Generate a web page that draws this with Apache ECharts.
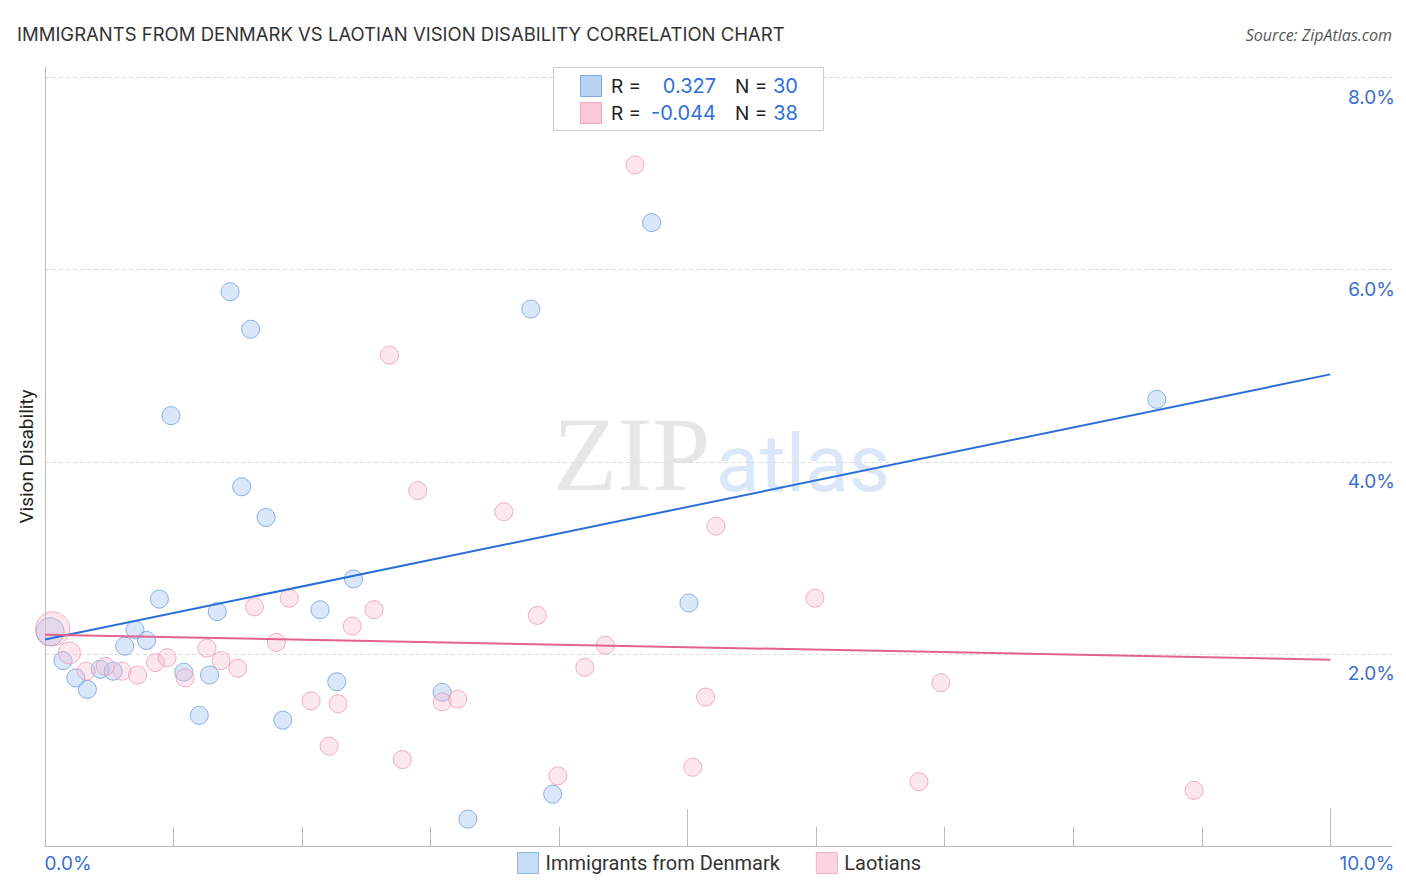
<!DOCTYPE html>
<html>
<head>
<meta charset="utf-8">
<script src="https://cdn.jsdelivr.net/npm/echarts@6/dist/echarts.min.js"></script>
<style>html,body{margin:0;padding:0;background:#fff}#chart{width:1406px;height:892px}</style>
</head>
<body>
<div id="chart"></div>
<script>
// ---- data ----
const seriesNames = ['Immigrants from Denmark', 'Laotians'];
const rValues = ['0.327', '-0.044'];
const nValues = ['30', '38'];

const denmark = [
  [0.04, 2.23], [0.14, 1.93], [0.24, 1.75], [0.33, 1.63], [0.43, 1.84], [0.53, 1.82],
  [0.62, 2.08], [0.70, 2.25], [0.79, 2.14], [0.89, 2.57], [1.08, 1.81], [1.20, 1.36],
  [1.28, 1.78], [1.34, 2.44], [1.85, 1.31], [2.14, 2.46], [2.27, 1.71], [2.40, 2.78],
  [3.09, 1.60], [3.29, 0.28], [3.95, 0.54], [5.01, 2.53], [0.98, 4.48], [1.44, 5.77],
  [1.60, 5.38], [1.53, 3.74], [1.72, 3.42], [3.78, 5.59], [4.72, 6.49], [8.65, 4.65]
];
const laotians = [
  [0.06, 2.26], [0.19, 2.01], [0.32, 1.82], [0.47, 1.87], [0.60, 1.82], [0.72, 1.78],
  [0.86, 1.91], [0.95, 1.96], [1.09, 1.75], [1.26, 2.06], [1.37, 1.93], [1.50, 1.85],
  [1.63, 2.49], [1.80, 2.12], [1.90, 2.58], [2.07, 1.51], [2.21, 1.04], [2.28, 1.48],
  [2.39, 2.29], [2.56, 2.46], [2.78, 0.90], [3.09, 1.50], [3.21, 1.53], [3.83, 2.40],
  [3.99, 0.73], [4.20, 1.86], [4.36, 2.09], [5.04, 0.82], [5.14, 1.55], [5.99, 2.58],
  [2.68, 5.11], [2.90, 3.70], [3.57, 3.48], [5.22, 3.33], [4.59, 7.09], [6.97, 1.70],
  [6.80, 0.67], [8.94, 0.58]
];
const trendDenmark = [[0, 2.15], [10, 4.91]];
const trendLaotians = [[0, 2.20], [10, 1.94]];

const xMinorTicks = [1, 2, 3, 4, 6, 7, 8, 9];
const xMajorTicks = [5, 10];
const yTicks = [2, 4, 6, 8];
const X_MAX = 10.48, Y_MAX = 8.11;

// ---- styles ----
const BLUE_FILL = 'rgba(168,200,242,0.55)', BLUE_EDGE = '#6e9de0', BLUE_LINE = '#2a6fd6';
const PINK_FILL = 'rgba(248,188,208,0.45)', PINK_EDGE = '#ec9bb6', PINK_LINE = '#e2628e';
const FONT = 'Roboto, "Noto Sans", sans-serif';
const GEO = 'Inter, Roboto, sans-serif';

const chart = echarts.init(document.getElementById('chart'), null, {renderer: 'svg'});

function statsRow(i, y, fill, edge) {
  return [
    {type: 'rect', z: 101, shape: {x: 580.5, y: y - 10.5, width: 21, height: 21}, style: {fill: fill, stroke: edge, lineWidth: 1}},
    {type: 'text', z: 101, style: {x: 611, y: y, text: 'R =', font: '19px ' + GEO, fill: '#222', verticalAlign: 'middle'}},
    {type: 'text', z: 101, style: {x: 716, y: y, text: rValues[i], font: '20px ' + GEO, fill: '#2f6fd6', align: 'right', verticalAlign: 'middle'}},
    {type: 'text', z: 101, style: {x: 735, y: y, text: 'N =', font: '19px ' + GEO, fill: '#222', verticalAlign: 'middle'}},
    {type: 'text', z: 101, style: {x: 798, y: y, text: nValues[i], font: '20px ' + GEO, fill: '#2f6fd6', align: 'right', verticalAlign: 'middle'}}
  ];
}

const option = {
  backgroundColor: '#fff',
  animation: false,
  textStyle: {fontFamily: FONT},
  title: [
    {text: 'IMMIGRANTS FROM DENMARK VS LAOTIAN VISION DISABILITY CORRELATION CHART', left: 12, top: 19,
     textStyle: {fontSize: 18.5, fontWeight: 'normal', color: '#333', fontFamily: GEO}},
    {text: 'Source: ZipAtlas.com', right: 9, top: 22,
     textStyle: {fontSize: 16, fontWeight: 'normal', fontStyle: 'italic', color: '#555', fontFamily: '"Open Sans", sans-serif'}}
  ],
  legend: {
    bottom: 13, left: 512, itemWidth: 21, itemHeight: 21, itemGap: 36,
    icon: 'rect',
    textStyle: {fontSize: 20, color: '#333', fontFamily: FONT, padding: [0, 0, 0, 2]},
    data: [
      {name: seriesNames[0], itemStyle: {color: '#b9d3f5', borderColor: '#7aaae6', borderWidth: 1}},
      {name: seriesNames[1], itemStyle: {color: '#fbc9d9', borderColor: '#f0a5bd', borderWidth: 1}}
    ]
  },
  grid: {left: 45, right: 14, top: 67, bottom: 46, containLabel: false},
  xAxis: [
    {type: 'value', min: 0, max: X_MAX,
     axisLine: {show: true, lineStyle: {color: '#bbb', width: 1}},
     axisTick: {show: true, inside: true, length: 19, customValues: xMinorTicks, lineStyle: {color: '#bbb'}},
     axisLabel: {show: true, customValues: [0, X_MAX], margin: 8,
       formatter: v => v === 0 ? '{l|0.0%}' : '{r|10.0%}',
       rich: {
         l: {fontSize: 19, color: '#3a6fd0', padding: [0, 0, 0, 46], fontFamily: GEO},
         r: {fontSize: 19, color: '#3a6fd0', padding: [0, 50, 0, 0], fontFamily: GEO}
       }},
     splitLine: {show: false}},
    {type: 'value', min: 0, max: X_MAX, position: 'bottom',
     axisLine: {show: false},
     axisTick: {show: true, inside: true, length: 37, customValues: xMajorTicks, lineStyle: {color: '#bbb'}},
     axisLabel: {show: false}, splitLine: {show: false}}
  ],
  yAxis: [
    {type: 'value', min: 0, max: Y_MAX, position: 'left',
     name: 'Vision Disability', nameLocation: 'middle', nameGap: 9,
     nameTextStyle: {fontSize: 19, color: '#222', fontFamily: FONT},
     axisLine: {show: true, lineStyle: {color: '#bbb', width: 1}},
     axisTick: {show: false, customValues: yTicks},
     axisLabel: {show: false},
     splitLine: {show: true, lineStyle: {color: '#ddd', type: [4, 3], width: 1}}},
    {type: 'value', min: 0, max: Y_MAX, position: 'right',
     axisLine: {show: false}, axisTick: {show: false},
     axisLabel: {show: true, inside: true, margin: -3, customValues: yTicks, verticalAlign: 'top',
       padding: [10, 0, 0, 0], fontSize: 19, color: '#3a6fd0', fontFamily: GEO,
       formatter: v => v.toFixed(1) + '%'},
     splitLine: {show: false}}
  ],
  graphic: [
    {type: 'text', z: 0, style: {x: 553, y: 402, text: 'ZIP', font: '105px "Liberation Serif", "DejaVu Serif", serif', fill: '#e6e6e6'}},
    {type: 'text', z: 0, style: {x: 716, y: 424, text: 'atlas', font: '80px ' + FONT, fill: '#d9e7f8'}},
    {type: 'rect', z: 100, shape: {x: 553.5, y: 67.5, width: 270, height: 63}, style: {fill: '#fff', stroke: '#ccc', lineWidth: 1}}
  ].concat(statsRow(0, 86, '#b9d3f5', '#7aaae6')).concat(statsRow(1, 113, '#fbc9d9', '#f0a5bd')),
  series: [
    {name: seriesNames[0], type: 'scatter', data: denmark, z: 3,
     symbolSize: (v, p) => p.dataIndex === 0 ? 28 : 18,
     itemStyle: {color: BLUE_FILL, borderColor: BLUE_EDGE, borderWidth: 1}},
    {name: seriesNames[1], type: 'scatter', data: laotians, z: 3,
     symbolSize: (v, p) => p.dataIndex === 0 ? 34 : (p.dataIndex === 1 ? 22 : 18),
     itemStyle: {color: PINK_FILL, borderColor: PINK_EDGE, borderWidth: 1}},
    {name: 'trend-denmark', type: 'line', data: trendDenmark, showSymbol: false, z: 5, silent: true,
     lineStyle: {color: BLUE_LINE, width: 2}},
    {name: 'trend-laotians', type: 'line', data: trendLaotians, showSymbol: false, z: 5, silent: true,
     lineStyle: {color: PINK_LINE, width: 2}}
  ]
};
chart.setOption(option);
</script>
</body>
</html>
